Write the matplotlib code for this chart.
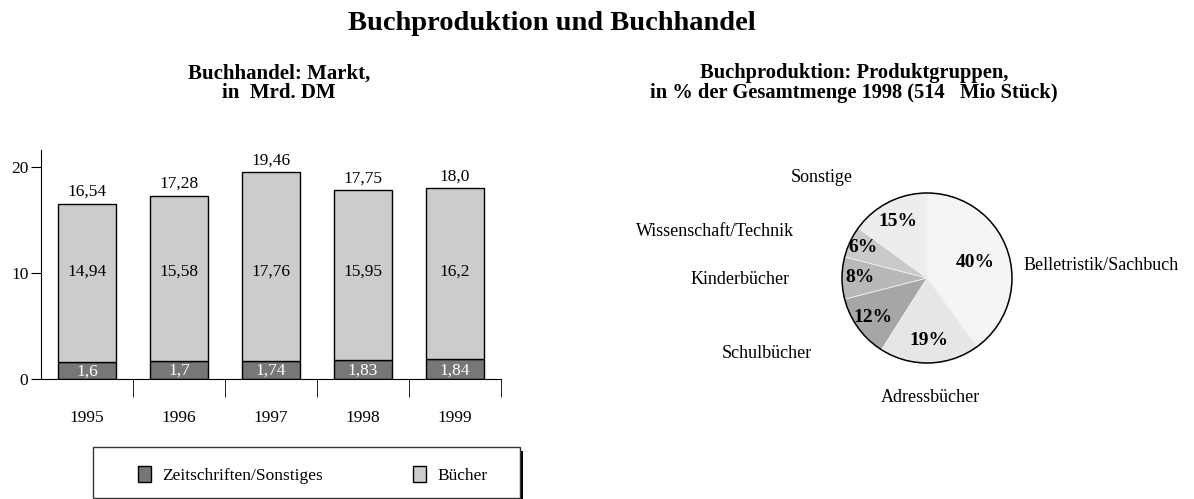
import numpy as np
import matplotlib
matplotlib.use("Agg")
import matplotlib.pyplot as plt
from matplotlib.patches import Rectangle, Circle

plt.rcParams['font.family'] = ['Liberation Serif', 'DejaVu Serif']

# Daten Buchhandel (Mrd. DM)
jahre = ["1995", "1996", "1997", "1998", "1999"]
zeitschriften = [1.6, 1.7, 1.74, 1.83, 1.84]
buecher = [14.94, 15.58, 17.76, 15.95, 16.2]
gesamt = [16.54, 17.28, 19.46, 17.75, 18.0]
lbl_zeitschriften = ["1,6", "1,7", "1,74", "1,83", "1,84"]
lbl_buecher = ["14,94", "15,58", "17,76", "15,95", "16,2"]
lbl_gesamt = ["16,54", "17,28", "19,46", "17,75", "18,0"]

# Daten Buchproduktion (% der Gesamtmenge 1998)
gruppen = ["Belletristik/Sachbuch", "Adressbücher", "Schulbücher",
           "Kinderbücher", "Wissenschaft/Technik", "Sonstige"]
anteile = [40, 19, 12, 8, 6, 15]
farben_pie = ["#f5f5f5", "#e6e6e6", "#a6a6a6", "#b8b8b8", "#cacaca", "#ededed"]

W, H = 1194, 499
fig = plt.figure(figsize=(W / 100, H / 100), dpi=100)

def px(x0, y0, x1, y1):
    # Pixelrechteck -> Figurkoordinaten
    return [x0 / W, 1 - y1 / H, (x1 - x0) / W, (y1 - y0) / H]

fig.text(552 / W, 1 - 23 / H, "Buchproduktion und Buchhandel", ha='center', va='center',
         fontsize=20.5, fontweight='bold')
fig.text(279 / W, 1 - 83 / H, "Buchhandel: Markt,\nin  Mrd. DM", ha='center', va='center',
         fontsize=15, fontweight='bold', linespacing=0.98)
fig.text(854 / W, 1 - 83 / H, "Buchproduktion: Produktgruppen,\nin % der Gesamtmenge 1998 (514   Mio Stück)",
         ha='center', va='center', fontsize=14.8, fontweight='bold', linespacing=0.98)

# Balkendiagramm
ax = fig.add_axes(px(41, 150, 501, 379))
x = np.arange(len(jahre))
b1 = ax.bar(x, zeitschriften, width=0.63, color="#777777", edgecolor='black', linewidth=1)
b2 = ax.bar(x, buecher, width=0.63, bottom=zeitschriften, color="#cccccc", edgecolor='black', linewidth=1)
ax.set_xlim(-0.5, 4.5)
ax.set_ylim(0, 21.6)
for s in ['top', 'right']:
    ax.spines[s].set_visible(False)
ax.set_yticks([0, 10, 20])
ax.tick_params(axis='y', length=7, labelsize=12.5, pad=2)
ax.set_xticks(x)
ax.set_xticklabels(jahre, fontsize=12.5)
ax.tick_params(axis='x', which='major', length=0, pad=22)
ax.set_xticks(list(x + 0.5), minor=True)
ax.tick_params(axis='x', which='minor', length=13, direction='out')

for i in range(len(jahre)):
    ax.text(x[i], zeitschriften[i] / 2 - 0.1, lbl_zeitschriften[i], ha='center', va='center',
            fontsize=12.5, color='white')
    ax.text(x[i], 10.1, lbl_buecher[i], ha='center', va='center', fontsize=12.5)
    ax.text(x[i], gesamt[i] + 0.35, lbl_gesamt[i], ha='center', va='bottom', fontsize=12.5)

# Legende mit Rahmen und Schatten
fig.patches.append(Rectangle((523 / W - 427 / W, 0), 427 / W, 1 - 451 / H,
                             transform=fig.transFigure, facecolor='black', edgecolor='none'))
fig.patches.append(Rectangle((93 / W, 1 / H), 427 / W, 1 - 447 / H - 1 / H,
                             transform=fig.transFigure, facecolor='white', edgecolor='#333333',
                             linewidth=1))
fig.legend([b1, b2], ["Zeitschriften/Sonstiges", "Bücher"], loc='center left',
           bbox_to_anchor=(122 / W, 1 - 475 / H), frameon=False, ncol=2, fontsize=12.5,
           handlelength=0.75, handleheight=1.0, handletextpad=0.65, columnspacing=5.2)

# Kreisdiagramm
cx, cy, r = 927, 278, 85
pax = fig.add_axes(px(cx - 100, cy - 100, cx + 100, cy + 100))
wedges, texte, ptexte = pax.pie(anteile, labels=gruppen, colors=farben_pie, startangle=90,
                                counterclock=False, radius=0.85, autopct='%d%%',
                                wedgeprops=dict(edgecolor='#f0f0f0', linewidth=0.6),
                                textprops=dict(fontsize=12.5))
pax.add_patch(Circle((0, 0), 0.85, fill=False, edgecolor='black', linewidth=1.1))
pax.set_xlim(-1, 1)
pax.set_ylim(-1, 1)
pax.set_aspect('equal')
pax.axis('off')

pct_abstand = [0.60, 0.74, 0.79, 0.79, 0.83, 0.75]
for w, t, d in zip(wedges, ptexte, pct_abstand):
    a = np.deg2rad((w.theta1 + w.theta2) / 2)
    t.set_position((d * 0.85 * np.cos(a), d * 0.85 * np.sin(a)))
    t.set_fontweight('bold')
    t.set_fontsize(14)

# Beschriftungen ausserhalb (Pixelpositionen der Vorlage)
lbl_pos = [(1024, 265, 'left'), (930, 398, 'center'), (767, 353, 'center'),
           (740, 279, 'center'), (715, 232, 'center'), (822, 178, 'center')]
for t, (lx, ly, ha) in zip(texte, lbl_pos):
    t.set_visible(False)
    fig.text(lx / W, 1 - ly / H, t.get_text(), ha=ha, va='center', fontsize=13)

fig.savefig("out.png", dpi=100)
